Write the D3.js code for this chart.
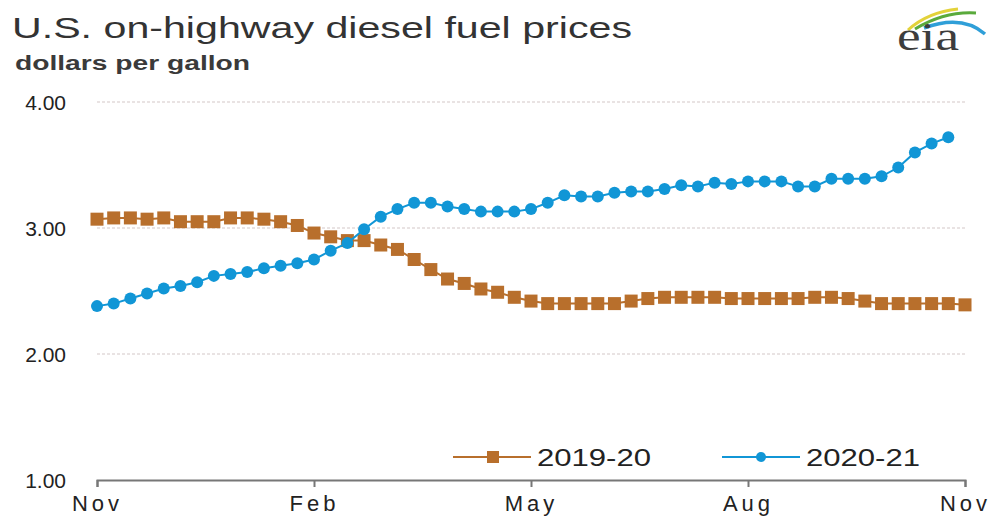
<!DOCTYPE html>
<html>
<head>
<meta charset="utf-8">
<script src="https://cdn.jsdelivr.net/npm/d3@7"></script>
<style>
  body { margin: 0; background: #fff; }
  text { font-family: "Liberation Sans", Arial, sans-serif; fill: #222; }
</style>
</head>
<body>
<svg id="vis"></svg>
<script>
//DATOS--------------------------------------------------------------------------------------------
const SERIES_NAMES = ["2019-20", "2020-21"];
const MONTH_LABELS = ["Nov", "Feb", "May", "Aug", "Nov"];
const MONTH_WEEKS = [0, 13, 26, 39, 52];
const Y_TICKS = [1, 2, 3, 4];
const PRICES_2019 = [
  3.07, 3.08, 3.08, 3.07, 3.08, 3.05, 3.05, 3.05, 3.08, 3.08, 3.07, 3.05, 3.02,
  2.96, 2.93, 2.9, 2.9, 2.865, 2.83, 2.75, 2.67, 2.595, 2.56, 2.516, 2.49, 2.45,
  2.42, 2.4, 2.4, 2.4, 2.4, 2.4, 2.42, 2.44, 2.45, 2.45, 2.45, 2.45, 2.44, 2.44,
  2.44, 2.44, 2.44, 2.45, 2.45, 2.44, 2.42, 2.4, 2.4, 2.4, 2.4, 2.4, 2.39,
];
const PRICES_2020 = [
  2.38, 2.4, 2.44, 2.48, 2.52, 2.54, 2.57, 2.62, 2.635, 2.65, 2.68, 2.7, 2.72,
  2.75, 2.82, 2.88, 2.99, 3.09, 3.15, 3.2, 3.2, 3.17, 3.15, 3.13, 3.13, 3.13,
  3.15, 3.2, 3.26, 3.25, 3.25, 3.28, 3.29, 3.29, 3.31, 3.34, 3.33, 3.36, 3.35,
  3.37, 3.37, 3.37, 3.33, 3.33, 3.39, 3.39, 3.39, 3.41, 3.48, 3.6, 3.67, 3.72,
];

//CONSTANTES---------------------------------------------------------------------------------------
const WIDTH = 991;
const HEIGHT = 516;
const COLOR_2019 = "#b86f2c";
const COLOR_2020 = "#1196d6";
const svg = d3.select("#vis").attr("width", WIDTH).attr("height", HEIGHT);

const escalaX = d3.scaleLinear().domain([0, 52]).range([97, 965]);
const escalaY = d3.scaleLinear().domain([1, 4]).range([480, 102]);

//TITULOS------------------------------------------------------------------------------------------
svg
  .append("text")
  .attr("x", 12)
  .attr("y", 38)
  .attr("textLength", 620)
  .attr("lengthAdjust", "spacingAndGlyphs")
  .style("font-size", "30px")
  .style("fill", "#333")
  .text("U.S. on-highway diesel fuel prices");
svg
  .append("text")
  .attr("x", 15)
  .attr("y", 70)
  .attr("textLength", 235)
  .attr("lengthAdjust", "spacingAndGlyphs")
  .style("font-size", "20px")
  .style("font-weight", "bold")
  .style("fill", "#3a3a3a")
  .text("dollars per gallon");

//LOGO EIA-----------------------------------------------------------------------------------------
const logo = svg.append("g");
logo
  .append("path")
  .attr("d", "M908,30 Q928,12 958,9")
  .attr("fill", "none")
  .attr("stroke", "#e3d23a")
  .attr("stroke-width", 3);
logo
  .append("path")
  .attr("d", "M915,29 Q945,11 976,13")
  .attr("fill", "none")
  .attr("stroke", "#5aaa3c")
  .attr("stroke-width", 3);
logo
  .append("path")
  .attr("d", "M924,28 Q962,14 985,34")
  .attr("fill", "none")
  .attr("stroke", "#2f9fd8")
  .attr("stroke-width", 3.5);
logo
  .append("text")
  .attr("x", 897)
  .attr("y", 50)
  .attr("textLength", 62)
  .attr("lengthAdjust", "spacingAndGlyphs")
  .style("font-family", "'Liberation Serif', 'DejaVu Serif', serif")
  .style("font-size", "40px")
  .style("fill", "#3d3d3d")
  .text("eia");

//EJES---------------------------------------------------------------------------------------------
const grid = svg.append("g");
grid
  .selectAll("line")
  .data(Y_TICKS.filter((d) => d > 1))
  .join("line")
  .attr("x1", escalaX(0))
  .attr("x2", escalaX(52))
  .attr("y1", (d) => escalaY(d))
  .attr("y2", (d) => escalaY(d))
  .attr("stroke", "#d3c7c7")
  .attr("stroke-width", 1.2)
  .attr("stroke-dasharray", "3,2");

svg
  .append("g")
  .selectAll("text")
  .data(Y_TICKS)
  .join("text")
  .attr("x", 66)
  .attr("y", (d) => escalaY(d) + 8)
  .attr("text-anchor", "end")
  .style("font-size", "21px")
  .text((d) => d3.format(".2f")(d));

const ejeX = d3
  .axisBottom(escalaX)
  .tickValues(MONTH_WEEKS)
  .tickFormat((d, i) => MONTH_LABELS[i])
  .tickSize(7)
  .tickPadding(8);
const gEjeX = svg
  .append("g")
  .attr("transform", `translate(0, ${escalaY(1)})`)
  .call(ejeX);
gEjeX.select(".domain").attr("stroke", "#777").attr("stroke-width", 2);
gEjeX.selectAll("line").attr("stroke", "#777").attr("stroke-width", 2);
gEjeX
  .selectAll("text")
  .style("font-family", "'Liberation Sans', Arial, sans-serif")
  .style("font-size", "22px")
  .style("letter-spacing", "4px")
  .style("fill", "#222");

//SERIES-------------------------------------------------------------------------------------------
const linea = d3
  .line()
  .x((d, i) => escalaX(i))
  .y((d) => escalaY(d));

svg
  .append("path")
  .datum(PRICES_2019)
  .attr("d", linea)
  .attr("fill", "none")
  .attr("stroke", COLOR_2019)
  .attr("stroke-width", 2);
svg
  .append("g")
  .selectAll("rect")
  .data(PRICES_2019)
  .join("rect")
  .attr("x", (d, i) => escalaX(i) - 6.5)
  .attr("y", (d) => escalaY(d) - 6.5)
  .attr("width", 13)
  .attr("height", 13)
  .attr("fill", COLOR_2019);

svg
  .append("path")
  .datum(PRICES_2020)
  .attr("d", linea)
  .attr("fill", "none")
  .attr("stroke", COLOR_2020)
  .attr("stroke-width", 2);
svg
  .append("g")
  .selectAll("circle")
  .data(PRICES_2020)
  .join("circle")
  .attr("cx", (d, i) => escalaX(i))
  .attr("cy", (d) => escalaY(d))
  .attr("r", 6)
  .attr("fill", COLOR_2020);

//LEYENDA------------------------------------------------------------------------------------------
const leyenda = [
  { name: SERIES_NAMES[0], x: 453, color: COLOR_2019, shape: "rect" },
  { name: SERIES_NAMES[1], x: 722, color: COLOR_2020, shape: "circle" },
];
const gLeyenda = svg
  .append("g")
  .selectAll("g")
  .data(leyenda)
  .join("g")
  .attr("transform", (d) => `translate(${d.x}, 457)`);
gLeyenda
  .append("line")
  .attr("x1", 0)
  .attr("x2", 78)
  .attr("stroke", (d) => d.color)
  .attr("stroke-width", 2);
gLeyenda
  .filter((d) => d.shape === "rect")
  .append("rect")
  .attr("x", 34)
  .attr("y", -6)
  .attr("width", 12)
  .attr("height", 12)
  .attr("fill", (d) => d.color);
gLeyenda
  .filter((d) => d.shape === "circle")
  .append("circle")
  .attr("cx", 39)
  .attr("r", 5)
  .attr("fill", (d) => d.color);
gLeyenda
  .append("text")
  .attr("x", 84)
  .attr("y", 9)
  .attr("textLength", 114)
  .attr("lengthAdjust", "spacingAndGlyphs")
  .style("font-size", "23px")
  .text((d) => d.name);
</script>
</body>
</html>
